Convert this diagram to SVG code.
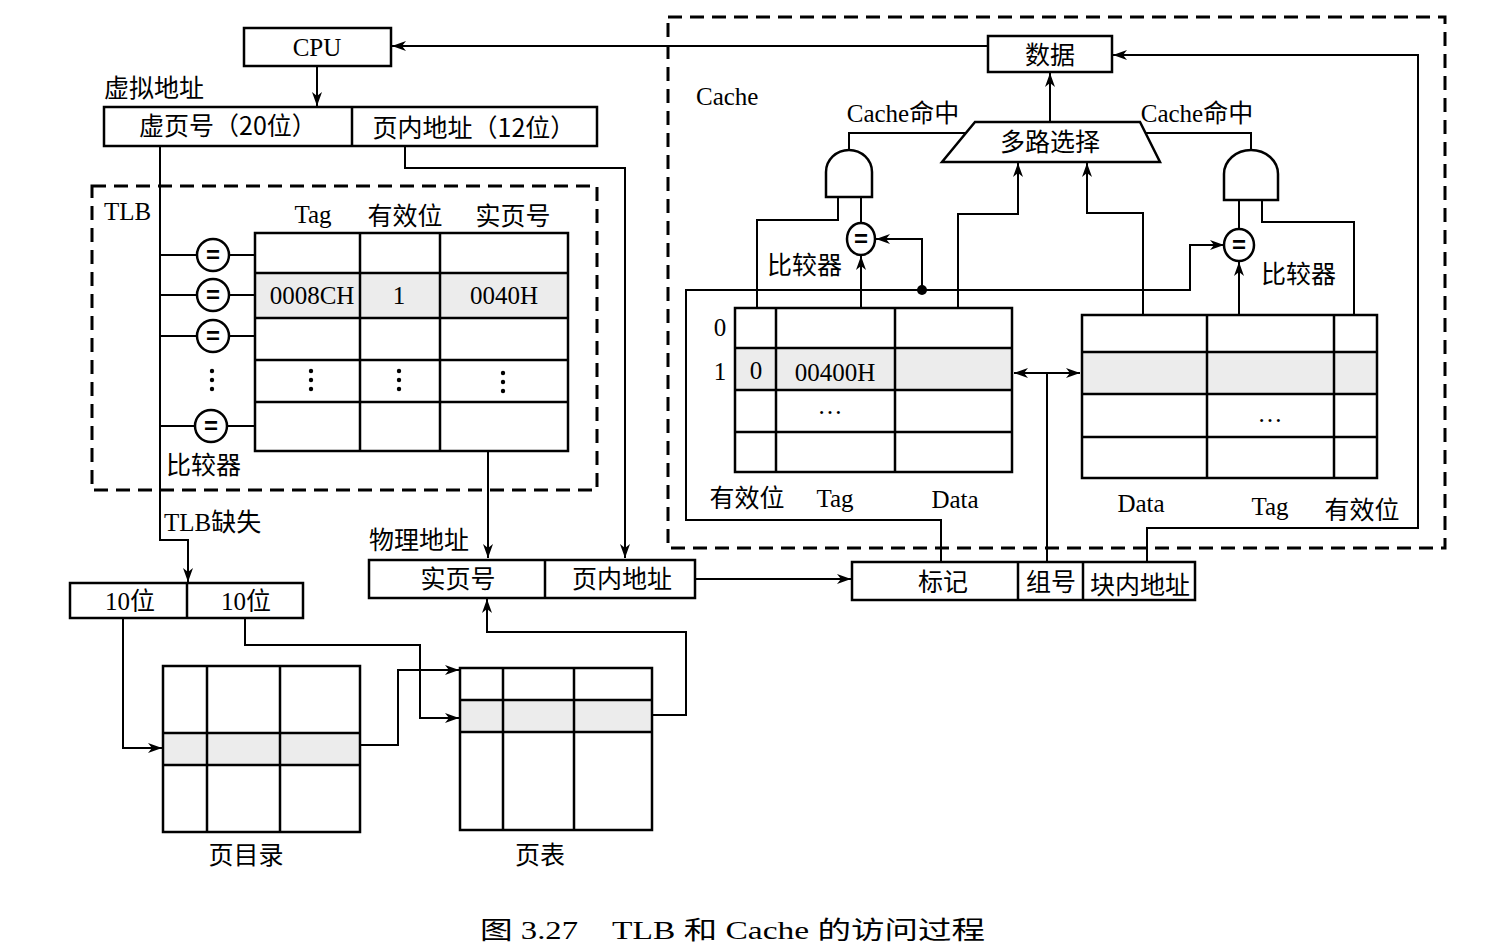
<svg xmlns="http://www.w3.org/2000/svg" width="1500" height="946" viewBox="0 0 1500 946">
<defs>
<style>
.bx{fill:#fff;stroke:#000;stroke-width:2.5}
.gl{fill:none;stroke:#000;stroke-width:2.5}
.hl{fill:#ececec;stroke:none}
.ln{fill:none;stroke:#000;stroke-width:2}
.dash{fill:none;stroke:#000;stroke-width:3;stroke-dasharray:14 8}
.ar{marker-end:url(#ah)}
.t{font-family:"Liberation Serif","Noto Sans CJK SC",serif;font-size:25px;fill:#000;text-anchor:middle}
.c{font-family:"Noto Sans CJK SC","Liberation Sans",sans-serif;font-size:25px;fill:#000;text-anchor:middle}
.l{text-anchor:start}
.eq{font-family:"Liberation Sans",sans-serif;font-size:24px;font-weight:bold;text-anchor:middle}
</style>
<marker id="ah" viewBox="0 0 14 10" refX="14" refY="5" markerWidth="14" markerHeight="10" markerUnits="userSpaceOnUse" orient="auto-start-reverse"><path d="M0,0 L14,5 L0,10 L4,5 z" fill="#000"/></marker>
</defs>
<rect width="1500" height="946" fill="#fff"/>

<g id="connectors">
<path class="ln ar" d="M317,66 V106"/>
<path class="ln ar" d="M160,146 V540 H188 V582"/>
<path class="ln" d="M160,255 H197 M229,255 H255 M160,295 H197 M229,295 H255 M160,336 H197 M229,336 H255 M160,426 H195 M227,426 H255"/>
<path class="ln ar" d="M405,146 V168 H625 V558"/>
<path class="ln ar" d="M488,451 V558"/>
<path class="ln ar" d="M123,618 V748 H162"/>
<path class="ln ar" d="M245,618 V645 H420 V718 H459"/>
<path class="ln ar" d="M327,745 H398 V670 H459"/>
<path class="ln ar" d="M635,715 H686 V632 H487 V599"/>
<path class="ln ar" d="M695,579 H851"/>
<path class="ln ar" d="M988,46 H392"/>
<path class="ln ar" d="M1147,562 V528 H1418 V55 H1113"/>
<path class="ln ar" d="M941,562 V520 H686 V290 H1190 V245 H1224"/>
<circle cx="922" cy="290" r="5" fill="#000"/>
<path class="ln ar" d="M922,290 V239 H876"/>
<path class="ln" d="M1047,562 V373"/>
<path class="ln" d="M1014,373 H1080" marker-start="url(#ah)" marker-end="url(#ah)"/>
<path class="ln ar" d="M861,308 V256"/>
<path class="ln" d="M861,223 V197"/>
<path class="ln" d="M757,308 V220 H838 V197"/>
<path class="ln" d="M849,150 V133 H967"/>
<path class="ln ar" d="M958,308 V214 H1018 V163"/>
<path class="ln ar" d="M1143,315 V213 H1087 V163"/>
<path class="ln ar" d="M1050,122 V73"/>
<path class="ln ar" d="M1239,315 V262"/>
<path class="ln" d="M1239,229 V200"/>
<path class="ln" d="M1354,315 V222 H1262 V200"/>
<path class="ln" d="M1251,150 V133 H1145"/>
</g>

<g id="cpu">
<rect class="bx" x="244" y="28" width="147" height="38"/>
<text class="t" x="317" y="56">CPU</text>
</g>

<g id="virtual-address">
<text class="c l" x="104" y="97">虚拟地址</text>
<rect class="bx" x="104" y="107" width="493" height="39"/>
<path class="gl" d="M352,107 V146"/>
<text class="c" x="228" y="135" font-size="26">虚页号（20位）</text>
<text class="c" x="474" y="137" font-size="26">页内地址（12位）</text>
</g>

<g id="tlb">
<rect class="dash" x="92" y="186" width="505" height="304"/>
<text class="t l" x="104" y="220">TLB</text>
<text class="t" x="313" y="223">Tag</text>
<text class="c" x="405" y="225">有效位</text>
<text class="c" x="513" y="225">实页号</text>
<rect class="hl" x="255" y="273" width="313" height="45"/>
<rect class="gl" x="255" y="233" width="313" height="218"/>
<path class="gl" d="M360,233 V451 M440,233 V451 M255,273 H568 M255,318 H568 M255,360 H568 M255,402 H568"/>
<text class="t" x="312" y="304" font-size="26">0008CH</text>
<text class="t" x="399" y="304" font-size="26">1</text>
<text class="t" x="504" y="304" font-size="26">0040H</text>
<g fill="#000">
<circle cx="212" cy="371" r="2.2"/><circle cx="212" cy="380" r="2.2"/><circle cx="212" cy="389" r="2.2"/>
<circle cx="311" cy="371" r="2.2"/><circle cx="311" cy="380" r="2.2"/><circle cx="311" cy="389" r="2.2"/>
<circle cx="399" cy="371" r="2.2"/><circle cx="399" cy="380" r="2.2"/><circle cx="399" cy="389" r="2.2"/>
<circle cx="503" cy="373" r="2.2"/><circle cx="503" cy="382" r="2.2"/><circle cx="503" cy="391" r="2.2"/>
</g>
<g>
<circle class="bx" cx="213" cy="255" r="16"/><text class="eq" x="213" y="263">=</text>
<circle class="bx" cx="213" cy="295" r="16"/><text class="eq" x="213" y="303">=</text>
<circle class="bx" cx="213" cy="336" r="16"/><text class="eq" x="213" y="344">=</text>
<circle class="bx" cx="211" cy="426" r="16"/><text class="eq" x="211" y="434">=</text>
</g>
<text class="c l" x="166" y="474" font-size="26">比较器</text>
</g>

<g id="tlb-miss">
<text class="t l" x="164" y="531">TLB<tspan font-family="Noto Sans CJK SC">缺失</tspan></text>
</g>

<g id="dir-index">
<rect class="bx" x="70" y="583" width="233" height="35"/>
<path class="gl" d="M187,583 V618"/>
<text class="t" x="130" y="610">10<tspan font-family="Noto Sans CJK SC">位</tspan></text>
<text class="t" x="246" y="610">10<tspan font-family="Noto Sans CJK SC">位</tspan></text>
</g>

<g id="page-directory">
<rect class="hl" x="163" y="733" width="197" height="32"/>
<rect class="gl" x="163" y="666" width="197" height="166"/>
<path class="gl" d="M207,666 V832 M280,666 V832 M163,733 H360 M163,765 H360"/>
<text class="c" x="246" y="864" font-size="27">页目录</text>
</g>

<g id="page-table">
<rect class="hl" x="460" y="700" width="192" height="32"/>
<rect class="gl" x="460" y="668" width="192" height="162"/>
<path class="gl" d="M503,668 V830 M574,668 V830 M460,700 H652 M460,732 H652"/>
<text class="c" x="540" y="864" font-size="27">页表</text>
</g>

<g id="physical-address">
<text class="c l" x="369" y="549">物理地址</text>
<rect class="bx" x="369" y="560" width="326" height="38"/>
<path class="gl" d="M545,560 V598"/>
<text class="c" x="458" y="588" font-size="26">实页号</text>
<text class="c" x="622" y="588" font-size="26">页内地址</text>
</g>

<g id="cache-address">
<rect class="bx" x="852" y="562" width="343" height="38"/>
<path class="gl" d="M1018,562 V600 M1083,562 V600"/>
<text class="c" x="943" y="591">标记</text>
<text class="c" x="1051" y="591">组号</text>
<text class="c" x="1140" y="594">块内地址</text>
</g>

<g id="cache">
<rect class="dash" x="668" y="17" width="777" height="531"/>
<text class="t l" x="696" y="105">Cache</text>
</g>

<g id="data">
<rect class="bx" x="988" y="36" width="124" height="36"/>
<text class="c" x="1050" y="64" font-size="27">数据</text>
</g>

<g id="mux">
<path class="bx" d="M975,122 H1140 L1160,162 H942 Z"/>
<text class="c" x="1050" y="151" font-size="27">多路选择</text>
<text class="t" x="903" y="122" font-size="24">Cache<tspan font-family="Noto Sans CJK SC">命中</tspan></text>
<text class="t" x="1197" y="122" font-size="24">Cache<tspan font-family="Noto Sans CJK SC">命中</tspan></text>
</g>

<g id="left-way">
<path class="bx" d="M826,197 V172 A23,22 0 0 1 872,172 V197 Z"/>
<ellipse class="bx" cx="861" cy="239" rx="14" ry="16"/>
<text class="eq" x="861" y="247">=</text>
<text class="c l" x="767" y="274" font-size="26">比较器</text>
<rect class="hl" x="735" y="348" width="277" height="42"/>
<rect class="gl" x="735" y="308" width="277" height="164"/>
<path class="gl" d="M776,308 V472 M895,308 V472 M735,348 H1012 M735,390 H1012 M735,432 H1012"/>
<text class="t" x="720" y="336">0</text>
<text class="t" x="720" y="380">1</text>
<text class="t" x="756" y="379">0</text>
<text class="t" x="835" y="381">00400H</text>
<text class="t" x="830" y="414">…</text>
<text class="c" x="747" y="507" font-size="26">有效位</text>
<text class="t" x="835" y="507">Tag</text>
<text class="t" x="955" y="508">Data</text>
</g>

<g id="right-way">
<path class="bx" d="M1224,200 V174 A27,24 0 0 1 1278,174 V200 Z"/>
<ellipse class="bx" cx="1239" cy="245" rx="15" ry="16"/>
<text class="eq" x="1239" y="253">=</text>
<text class="c l" x="1261" y="283" font-size="26">比较器</text>
<rect class="hl" x="1082" y="352" width="295" height="42"/>
<rect class="gl" x="1082" y="315" width="295" height="163"/>
<path class="gl" d="M1207,315 V478 M1334,315 V478 M1082,352 H1377 M1082,394 H1377 M1082,437 H1377"/>
<text class="t" x="1270" y="422">…</text>
<text class="t" x="1141" y="512">Data</text>
<text class="t" x="1270" y="515">Tag</text>
<text class="c" x="1362" y="519" font-size="26">有效位</text>
</g>

<g id="caption">
<text class="t l" x="480" y="939" font-size="34" textLength="98" lengthAdjust="spacingAndGlyphs">图 3.27</text>
<text class="t l" x="612" y="939" font-size="34" textLength="373" lengthAdjust="spacingAndGlyphs">TLB 和 Cache 的访问过程</text>
</g>
</svg>
